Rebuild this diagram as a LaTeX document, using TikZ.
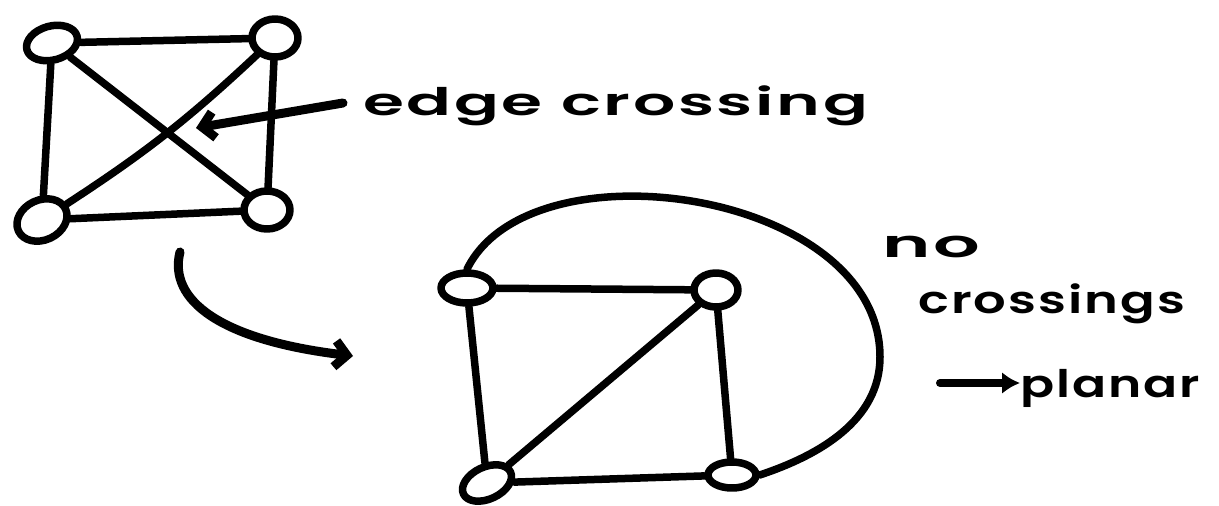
\documentclass[tikz,border=0pt]{standalone}
\usepackage{fontspec}
\setmainfont{Poppins}
\newfontfamily\hwfont[LetterSpace=4, UprightFont=* SemiBold]{Poppins}
\usetikzlibrary{shapes.geometric,arrows.meta}
\newcommand\handw[2]{\resizebox{#1}{\height}{\hwfont\fontsize{38pt}{40pt}\selectfont #2}}
\begin{document}
\begin{tikzpicture}[x=1pt,y=-1pt, line cap=round, line join=round,
  vtx/.style={draw, ellipse, line width=7.5pt, inner sep=0pt},
  link/.style={line width=7.5pt},
  pointer/.style={line width=9pt, -{Straight Barb[length=12pt,width=26pt]}},
  lbl/.style={anchor=base west, inner sep=0pt}]
\useasboundingbox (0,0) rectangle (1219,506);

% first graph (with a crossing)
\node[vtx, minimum width=52pt, minimum height=34pt, rotate=15] (A) at (52,43) {};
\node[vtx, minimum width=46pt, minimum height=38pt] (B) at (275,38) {};
\node[vtx, minimum width=52pt, minimum height=40pt, rotate=25] (C) at (42,220) {};
\node[vtx, minimum width=46pt, minimum height=38pt] (D) at (267,210) {};
\draw[link] (A) -- (B);
\draw[link] (A) -- (C);
\draw[link] (B) -- (D);
\draw[link] (C) -- (D);
\draw[link] (A) -- (D);
\draw[link] (B) to[bend left=5] (C);

% label "edge crossing"
\node[lbl] (t1) at (363,115) {\handw{505pt}{edge crossing}};
\coordinate (crossS) at (343,103);
\coordinate (crossT) at (196,128);
\draw[pointer] (crossS) -- (crossT);

% curved arrow
\coordinate (curveS) at (180,252);
\coordinate (curveE) at (353,356);
\draw[pointer] (curveS) .. controls (168,300) and (220,340) .. (curveE);

% second graph (planar)
\node[vtx, minimum width=52pt, minimum height=30pt] (E) at (467,288) {};
\node[vtx, minimum width=44pt, minimum height=34pt] (F) at (716,290) {};
\node[vtx, minimum width=52pt, minimum height=32pt, rotate=25] (G) at (487,483) {};
\node[vtx, minimum width=48pt, minimum height=26pt] (H) at (732,475) {};
\draw[link] (E) -- (F);
\draw[link] (E) -- (G);
\draw[link] (F) -- (H);
\draw[link] (G) -- (H);
\draw[link] (G) -- (F);
\coordinate (arcR) at (880,357);
\draw[link] (E.north) .. controls (530,140) and (880,190) .. (arcR)
  .. controls (880,420) and (820,455) .. (H.east);

% labels on the right
\node[lbl] (t2) at (882,257) {\handw{98pt}{no}};
\node[lbl] (t3) at (918,313) {\handw{267pt}{crossings}};
\node[lbl] (t4) at (1020,397) {\handw{180pt}{planar}};
\coordinate (impS) at (940,383);
\draw[line width=8pt, -{Latex[length=18pt,width=22pt]}] (impS) -- (t4.west |- impS);
\end{tikzpicture}
\end{document}
